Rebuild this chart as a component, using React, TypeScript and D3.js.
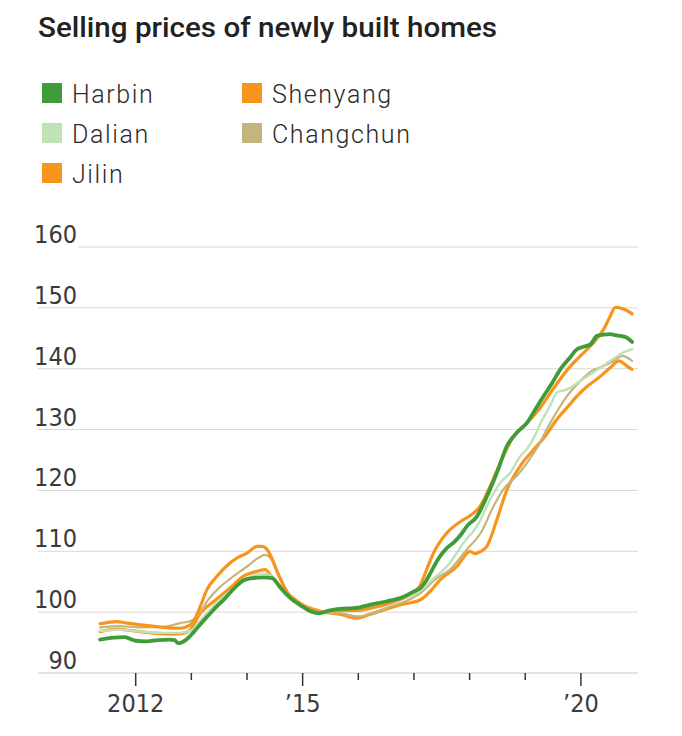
import React from "react";
import * as d3 from "d3";

const title = "Selling prices of newly built homes";

const seriesNames = ["Harbin", "Shenyang", "Dalian", "Changchun", "Jilin"];
const seriesColors = ["#3f9c38", "#f7941d", "#bfe2b6", "#c4b57c", "#f7961f"];

const yTicks = [90, 100, 110, 120, 130, 140, 150, 160];
const xTickYears = [2012, 2013, 2014, 2015, 2016, 2017, 2018, 2019, 2020];
const xMajorYears = [2012, 2015, 2020];
const xTickLabels = ["2012", "\u201915", "\u201920"];

const harbin: [number, number][] = [
  [2011.36, 95.5], [2011.6, 95.8], [2011.8, 95.9], [2012.0, 95.3], [2012.2, 95.2], [2012.4, 95.4],
  [2012.6, 95.5], [2012.7, 95.4], [2012.76, 94.9], [2012.9, 95.4], [2013.05, 96.8], [2013.2, 98.4],
  [2013.4, 100.4], [2013.6, 102.2], [2013.8, 104.2], [2013.95, 105.3], [2014.1, 105.6], [2014.3, 105.7],
  [2014.45, 105.6], [2014.6, 104.0], [2014.78, 102.3], [2015.0, 100.9], [2015.15, 100.1], [2015.3, 99.8],
  [2015.45, 100.2], [2015.62, 100.5], [2015.8, 100.6], [2016.03, 100.8], [2016.2, 101.2], [2016.5, 101.75],
  [2016.8, 102.5], [2017.0, 103.4], [2017.12, 104.0], [2017.23, 105.3], [2017.3, 106.5], [2017.47, 109.2],
  [2017.6, 110.6], [2017.71, 111.4], [2017.85, 112.8], [2017.95, 114.1], [2018.13, 115.7], [2018.31, 119.0],
  [2018.49, 122.9], [2018.67, 127.3], [2018.85, 129.5], [2019.03, 131.1], [2019.18, 133.3], [2019.33, 135.5],
  [2019.48, 137.6], [2019.63, 139.9], [2019.8, 141.8], [2019.93, 143.2], [2020.05, 143.6], [2020.17, 144.0],
  [2020.29, 145.4], [2020.4, 145.6], [2020.53, 145.7], [2020.62, 145.5], [2020.71, 145.4], [2020.8, 145.2],
  [2020.92, 144.4],
];

const shenyang: [number, number][] = [
  [2011.36, 98.1], [2011.66, 98.45], [2011.85, 98.2], [2012.08, 97.9], [2012.3, 97.7], [2012.5, 97.5],
  [2012.8, 97.35], [2012.98, 97.9], [2013.08, 99.2], [2013.16, 100.9], [2013.28, 103.7], [2013.46, 105.9],
  [2013.7, 108.1], [2013.82, 108.9], [2014.0, 109.7], [2014.18, 110.8], [2014.27, 110.8], [2014.36, 110.3],
  [2014.45, 108.8], [2014.55, 106.5], [2014.72, 103.3], [2014.9, 101.8], [2015.1, 100.6], [2015.3, 100.0],
  [2015.6, 100.3], [2016.0, 100.3], [2016.3, 100.8], [2016.6, 101.6], [2016.9, 102.8], [2017.1, 104.2],
  [2017.22, 106.8], [2017.35, 109.7], [2017.59, 113.0], [2017.89, 115.2], [2018.0, 115.8], [2018.19, 117.4],
  [2018.37, 120.7], [2018.55, 124.5], [2018.79, 128.9], [2019.03, 131.1], [2019.27, 133.6], [2019.45, 136.0],
  [2019.63, 138.3], [2019.82, 140.5], [2019.99, 142.1], [2020.23, 144.3], [2020.41, 146.5], [2020.52, 148.5],
  [2020.62, 150.1], [2020.77, 149.8], [2020.92, 149.0],
];

const dalian: [number, number][] = [
  [2011.36, 96.9], [2011.7, 97.1], [2012.1, 96.8], [2012.5, 96.6], [2012.8, 96.6], [2013.0, 97.0],
  [2013.2, 99.0], [2013.4, 101.0], [2013.7, 103.5], [2014.0, 105.5], [2014.3, 106.3], [2014.42, 106.0],
  [2014.6, 104.0], [2014.8, 102.3], [2015.0, 101.0], [2015.3, 100.0], [2015.7, 100.3], [2016.0, 100.5],
  [2016.5, 101.3], [2016.9, 102.5], [2017.1, 103.4], [2017.35, 105.5], [2017.65, 108.1], [2017.89, 111.4],
  [2018.13, 114.1], [2018.37, 118.5], [2018.55, 121.25], [2018.73, 122.9], [2018.91, 125.6], [2019.03, 126.8],
  [2019.15, 128.6], [2019.3, 131.5], [2019.45, 134.0], [2019.57, 136.1], [2019.75, 136.6], [2019.99, 138.0],
  [2020.23, 139.4], [2020.53, 141.3], [2020.77, 142.7], [2020.92, 143.2],
];

const changchun: [number, number][] = [
  [2011.36, 97.5], [2011.7, 97.7], [2012.1, 97.5], [2012.5, 97.6], [2012.8, 98.2], [2013.0, 98.6],
  [2013.16, 100.0], [2013.3, 102.0], [2013.5, 104.0], [2013.7, 105.5], [2014.0, 107.5], [2014.2, 108.9],
  [2014.33, 109.4], [2014.42, 108.9], [2014.55, 106.5], [2014.75, 103.0], [2015.0, 101.2], [2015.3, 100.1],
  [2015.7, 99.8], [2016.0, 99.3], [2016.3, 100.0], [2016.6, 101.0], [2016.9, 102.0], [2017.1, 103.0],
  [2017.4, 105.5], [2017.65, 107.0], [2017.95, 110.3], [2018.2, 113.0], [2018.43, 117.4], [2018.6, 120.1],
  [2018.85, 122.4], [2019.03, 124.5], [2019.2, 126.8], [2019.45, 131.1], [2019.75, 135.5], [2019.99, 138.0],
  [2020.19, 139.6], [2020.4, 140.4], [2020.59, 141.3], [2020.74, 142.1], [2020.92, 141.3],
];

const jilin: [number, number][] = [
  [2011.36, 96.8], [2011.66, 97.2], [2011.9, 97.0], [2012.08, 96.8], [2012.38, 96.5], [2012.68, 96.4],
  [2012.85, 96.5], [2012.98, 97.1], [2013.16, 99.8], [2013.4, 101.75], [2013.7, 104.0], [2013.94, 105.9],
  [2014.18, 106.7], [2014.33, 107.0], [2014.42, 106.1], [2014.6, 104.2], [2014.78, 102.6], [2015.0, 101.2],
  [2015.3, 100.2], [2015.7, 99.6], [2015.97, 99.0], [2016.2, 99.6], [2016.5, 100.5], [2016.8, 101.3],
  [2017.11, 102.0], [2017.3, 103.5], [2017.47, 105.3], [2017.77, 107.5], [2018.01, 110.0], [2018.1, 109.6],
  [2018.2, 110.0], [2018.31, 110.8], [2018.49, 115.2], [2018.67, 120.1], [2018.91, 124.0], [2019.15, 126.7],
  [2019.35, 128.8], [2019.57, 131.7], [2019.75, 133.6], [2019.93, 135.5], [2020.1, 137.0], [2020.29, 138.3],
  [2020.53, 140.2], [2020.68, 141.3], [2020.86, 140.2], [2020.92, 139.9],
];

const W = 682;
const H = 736;

export default function App() {
  const x = d3.scaleLinear().domain([2012, 2020]).range([135.7, 580.9]);
  const y = d3.scaleLinear().domain([90, 160]).range([673, 247]);
  const line = d3
    .line<[number, number]>()
    .x((d) => x(d[0]))
    .y((d) => y(d[1]))
    .curve(d3.curveMonotoneX);

  const drawOrder: { data: [number, number][]; color: string; width: number }[] = [
    { data: jilin, color: seriesColors[4], width: 3.2 },
    { data: changchun, color: seriesColors[3], width: 2.2 },
    { data: dalian, color: seriesColors[2], width: 2.4 },
    { data: shenyang, color: seriesColors[1], width: 3.2 },
    { data: harbin, color: seriesColors[0], width: 3.8 },
  ];

  const legendPos = [
    [0, 0],
    [1, 0],
    [0, 1],
    [1, 1],
    [0, 2],
  ];

  const axisFont = "'Liberation Sans Narrow', 'DejaVu Sans Condensed', sans-serif";

  return (
    <svg
      width={W}
      height={H}
      style={{ position: "absolute", left: 0, top: 0, background: "#fff" }}
    >
      <text
        x={38}
        y={37}
        fontFamily="Roboto, sans-serif"
        fontWeight={500}
        fontSize={27}
        textLength={459}
        lengthAdjust="spacingAndGlyphs"
        fill="#222"
      >
        {title}
      </text>

      {seriesNames.map((name, i) => {
        const [c, r] = legendPos[i];
        return (
          <g key={name} transform={`translate(${42 + c * 200},${83 + r * 40})`}>
            <rect width={20} height={20} fill={seriesColors[i]} />
            <text
              x={30}
              y={20}
              fontFamily="Roboto, sans-serif"
              fontWeight={300}
              fontSize={25}
              letterSpacing={1.6}
              fill="#2a2a2a"
            >
              {name}
            </text>
          </g>
        );
      })}

      {yTicks.map((v) => (
        <g key={v}>
          <line
            x1={v === 160 ? 78 : 38}
            x2={638}
            y1={y(v)}
            y2={y(v)}
            stroke={v === 90 ? "#c8c8c8" : "#d8d8d8"}
            strokeWidth={1}
          />
          <text
            x={77}
            y={y(v) - 4}
            textAnchor="end"
            fontFamily={axisFont}
            fontSize={25}
            fill="#3a3a3a"
          >
            {v}
          </text>
        </g>
      ))}

      {xTickYears.map((yr) => {
        const major = xMajorYears.includes(yr);
        return (
          <line
            key={yr}
            x1={x(yr)}
            x2={x(yr)}
            y1={673}
            y2={major ? 686 : 680}
            stroke="#333"
            strokeWidth={1.5}
          />
        );
      })}
      {xMajorYears.map((yr, i) => (
        <text
          key={yr}
          x={x(yr)}
          y={712}
          textAnchor="middle"
          fontFamily={axisFont}
          fontSize={25}
          fill="#3a3a3a"
        >
          {xTickLabels[i]}
        </text>
      ))}

      {drawOrder.map((s, i) => (
        <path
          key={i}
          d={line(s.data) || ""}
          fill="none"
          stroke={s.color}
          strokeWidth={s.width}
          strokeLinejoin="round"
          strokeLinecap="round"
        />
      ))}
    </svg>
  );
}
